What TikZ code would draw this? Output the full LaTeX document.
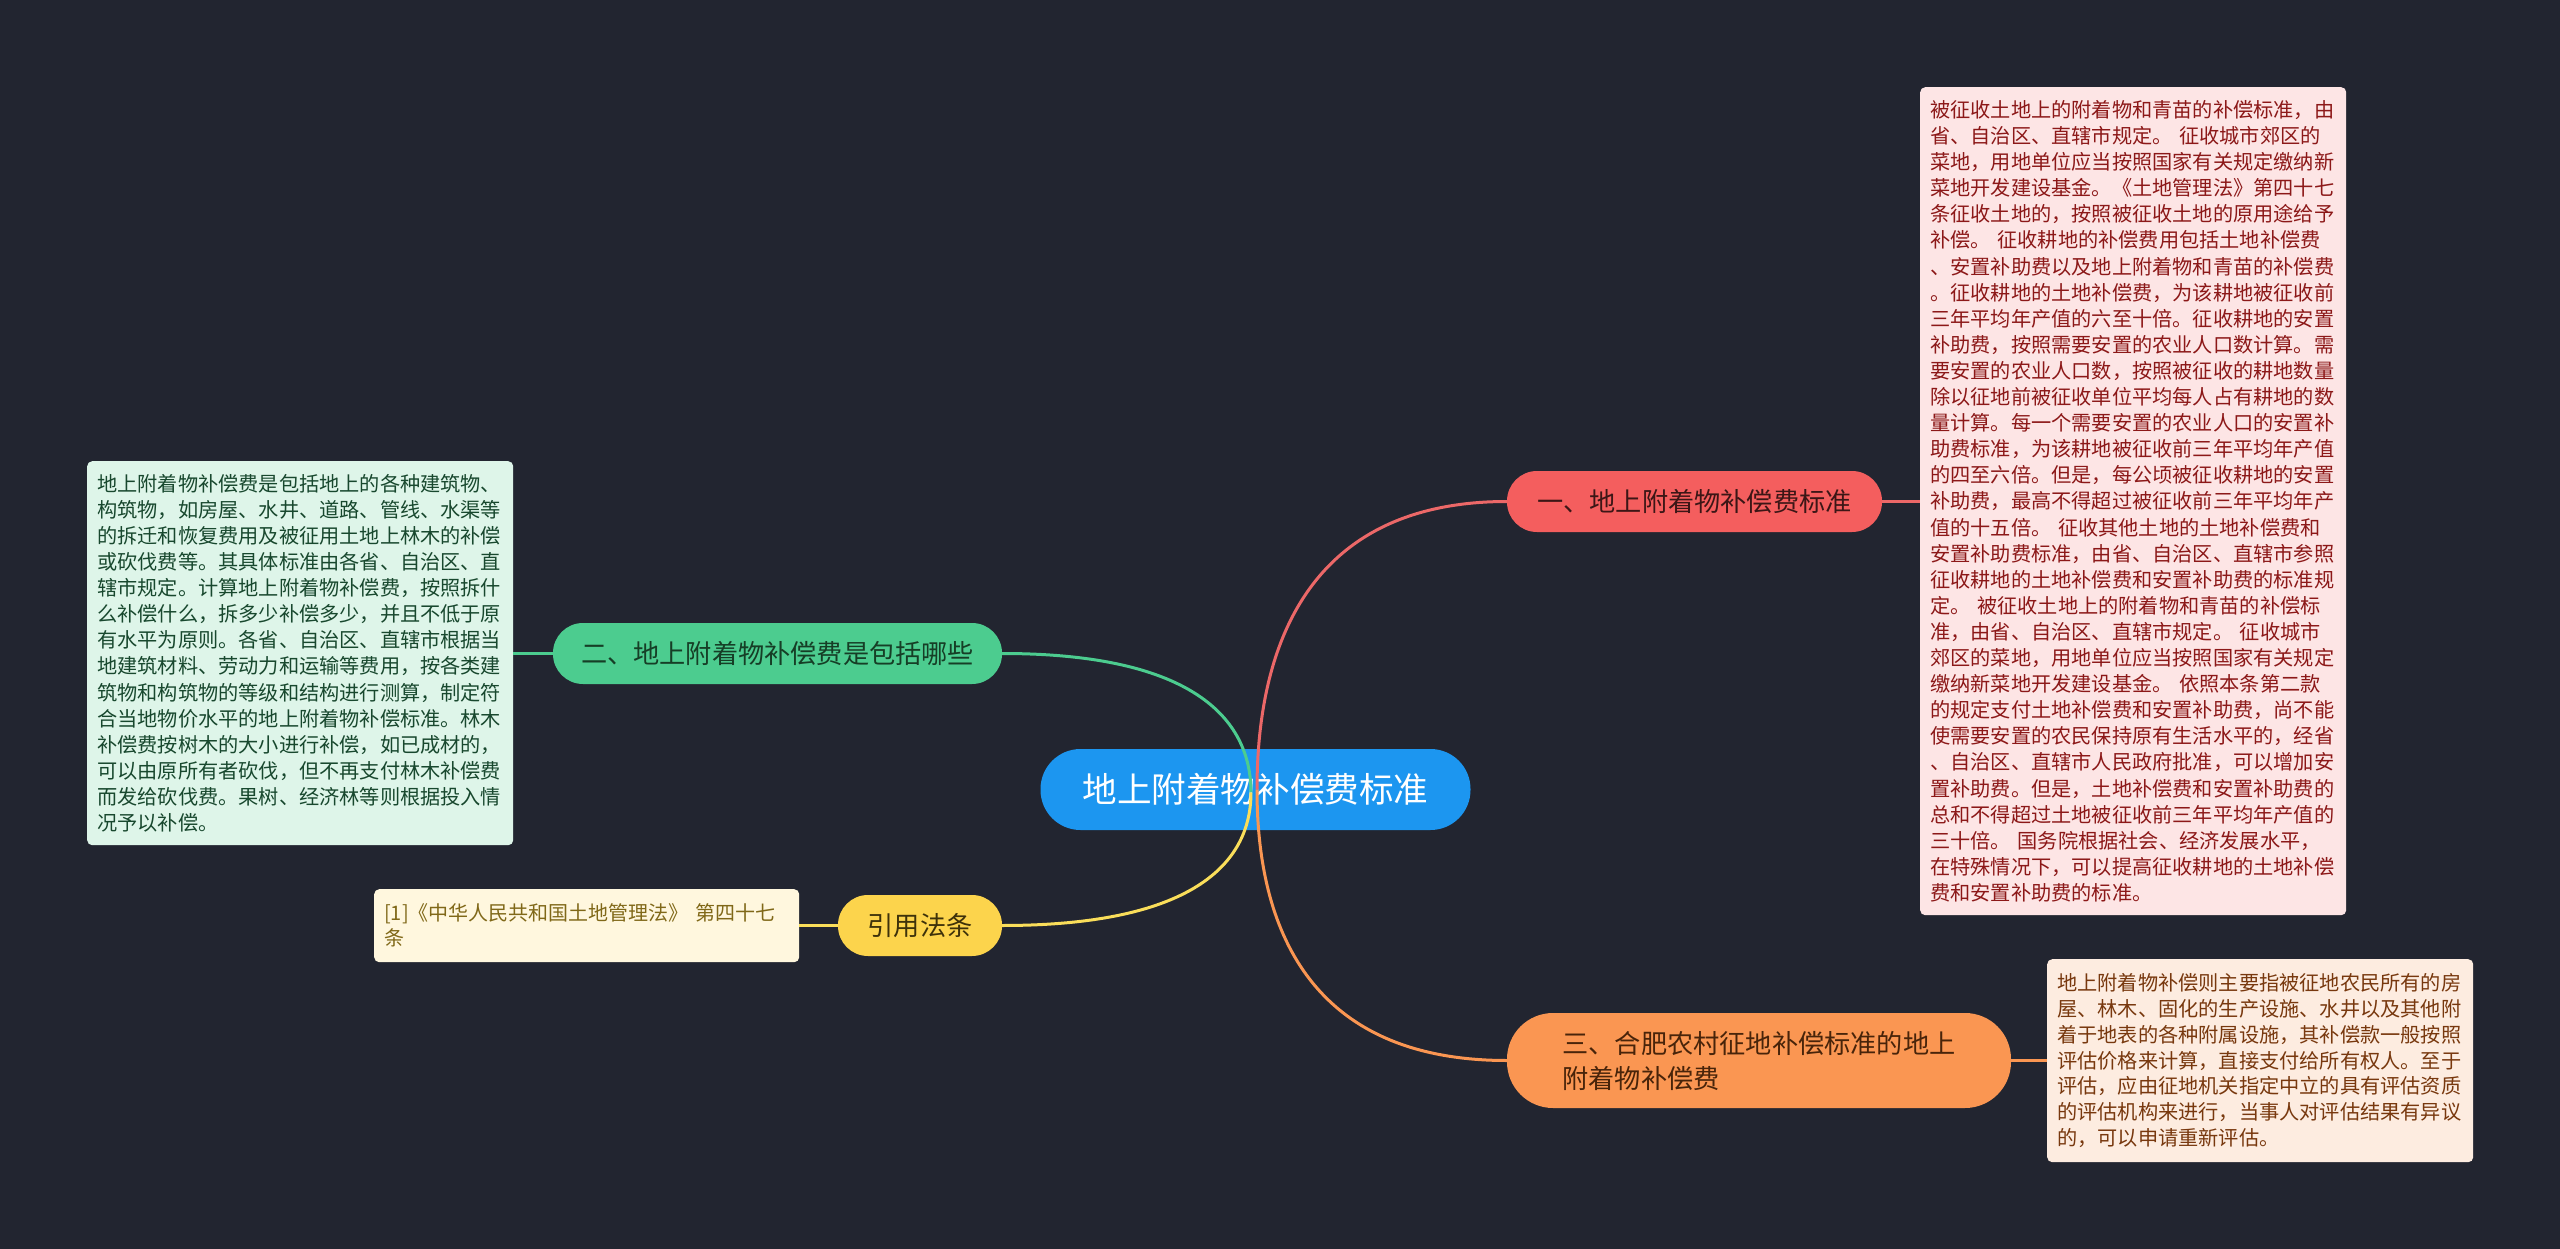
\documentclass[tikz,border=0pt]{standalone}
\usepackage{fontspec}
\newfontfamily\cjk{Noto Sans CJK SC}
\setlength{\parindent}{0pt}
\definecolor{bgc}{RGB}{34,37,48}
\definecolor{cblue}{RGB}{28,150,240}
\definecolor{cred}{RGB}{244,94,94}
\definecolor{credline}{RGB}{236,104,104}
\definecolor{credtxt}{RGB}{60,22,22}
\definecolor{cpink}{RGB}{253,229,229}
\definecolor{cpinktxt}{RGB}{140,24,24}
\definecolor{cgreen}{RGB}{76,204,143}
\definecolor{cgreentxt}{RGB}{22,62,38}
\definecolor{cmint}{RGB}{222,245,233}
\definecolor{cminttxt}{RGB}{24,72,46}
\definecolor{cyellow}{RGB}{252,212,76}
\definecolor{cyellowline}{RGB}{250,222,90}
\definecolor{cyellowtxt}{RGB}{62,50,10}
\definecolor{ccream}{RGB}{255,247,222}
\definecolor{ccreamtxt}{RGB}{128,104,24}
\definecolor{corange}{RGB}{250,150,82}
\definecolor{corangetxt}{RGB}{72,36,10}
\definecolor{cpeach}{RGB}{253,236,224}
\definecolor{cpeachtxt}{RGB}{120,56,14}
\tikzset{
  pill/.style={rectangle, rounded corners=#1, inner sep=0pt,
    font=\cjk\fontsize{26.2}{35}\selectfont},
  txtbox/.style={rectangle, rounded corners=5pt, anchor=north west, align=left,
    inner xsep=10pt, inner ysep=0pt, text width=406pt,
    font=\cjk\fontsize{20.2}{26.1}\selectfont},
  link/.style={line width=3pt},
}
\begin{document}
\begin{tikzpicture}[x=1pt,y=-1pt]
\fill[bgc] (0,0) rectangle (2560,1249);
\useasboundingbox (0,0) rectangle (2560,1249);

% central node
\node[pill=40pt, fill=cblue, text=white, minimum width=430pt, minimum height=81pt,
  font=\cjk\fontsize{34.6}{40}\selectfont] (c) at (1255.5,789.5) {地上附着物补偿费标准};

% branch nodes
\node[pill=30pt, fill=cred, text=credtxt, minimum width=375pt, minimum height=61pt]
  (b1) at (1694.5,501.5) {一、地上附着物补偿费标准};
\node[pill=30pt, fill=cgreen, text=cgreentxt, minimum width=449pt, minimum height=61pt]
  (b2) at (777.5,653.5) {二、地上附着物补偿费是包括哪些};
\node[pill=30pt, fill=cyellow, text=cyellowtxt, minimum width=164pt, minimum height=61pt]
  (b4) at (920,925.5) {引用法条};
\node[pill=46pt, fill=corange, text=corangetxt, minimum width=504pt, minimum height=95pt, align=left]
  (b3) at (1759,1060.5) {三、合肥农村征地补偿标准的地上\\附着物补偿费};

% text boxes
\node[txtbox, fill=cpink, text=cpinktxt, minimum height=828pt] (t1) at (1920,87) {%
被征收土地上的附着物和青苗的补偿标准，由\\
省、自治区、直辖市规定。 征收城市郊区的\\
菜地，用地单位应当按照国家有关规定缴纳新\\
菜地开发建设基金。《土地管理法》第四十七\\
条征收土地的，按照被征收土地的原用途给予\\
补偿。 征收耕地的补偿费用包括土地补偿费\\
、安置补助费以及地上附着物和青苗的补偿费\\
。征收耕地的土地补偿费，为该耕地被征收前\\
三年平均年产值的六至十倍。征收耕地的安置\\
补助费，按照需要安置的农业人口数计算。需\\
要安置的农业人口数，按照被征收的耕地数量\\
除以征地前被征收单位平均每人占有耕地的数\\
量计算。每一个需要安置的农业人口的安置补\\
助费标准，为该耕地被征收前三年平均年产值\\
的四至六倍。但是，每公顷被征收耕地的安置\\
补助费，最高不得超过被征收前三年平均年产\\
值的十五倍。 征收其他土地的土地补偿费和\\
安置补助费标准，由省、自治区、直辖市参照\\
征收耕地的土地补偿费和安置补助费的标准规\\
定。 被征收土地上的附着物和青苗的补偿标\\
准，由省、自治区、直辖市规定。 征收城市\\
郊区的菜地，用地单位应当按照国家有关规定\\
缴纳新菜地开发建设基金。 依照本条第二款\\
的规定支付土地补偿费和安置补助费，尚不能\\
使需要安置的农民保持原有生活水平的，经省\\
、自治区、直辖市人民政府批准，可以增加安\\
置补助费。但是，土地补偿费和安置补助费的\\
总和不得超过土地被征收前三年平均年产值的\\
三十倍。 国务院根据社会、经济发展水平，\\
在特殊情况下，可以提高征收耕地的土地补偿\\
费和安置补助费的标准。};

\node[txtbox, fill=cmint, text=cminttxt, minimum height=384pt] (t2) at (87,461) {%
地上附着物补偿费是包括地上的各种建筑物、\\
构筑物，如房屋、水井、道路、管线、水渠等\\
的拆迁和恢复费用及被征用土地上林木的补偿\\
或砍伐费等。其具体标准由各省、自治区、直\\
辖市规定。计算地上附着物补偿费，按照拆什\\
么补偿什么，拆多少补偿多少，并且不低于原\\
有水平为原则。各省、自治区、直辖市根据当\\
地建筑材料、劳动力和运输等费用，按各类建\\
筑物和构筑物的等级和结构进行测算，制定符\\
合当地物价水平的地上附着物补偿标准。林木\\
补偿费按树木的大小进行补偿，如已成材的，\\
可以由原所有者砍伐，但不再支付林木补偿费\\
而发给砍伐费。果树、经济林等则根据投入情\\
况予以补偿。};

\node[txtbox, fill=ccream, text=ccreamtxt, minimum height=73pt, text width=405pt,
  font=\cjk\fontsize{20}{25}\selectfont] (t3) at (374,889) {%
[1]《中华人民共和国土地管理法》 第四十七\\
条};

\node[txtbox, fill=cpeach, text=cpeachtxt, minimum height=203pt,
  font=\cjk\fontsize{20.2}{25.8}\selectfont] (t4) at (2047,959) {%
地上附着物补偿则主要指被征地农民所有的房\\
屋、林木、固化的生产设施、水井以及其他附\\
着于地表的各种附属设施，其补偿款一般按照\\
评估价格来计算，直接支付给所有权人。至于\\
评估，应由征地机关指定中立的具有评估资质\\
的评估机构来进行，当事人对评估结果有异议\\
的，可以申请重新评估。};

% short links from branches to text boxes
\draw[link, credline] (b1.east) -- (t1.west |- b1.east);
\draw[link, cgreen] (b2.west) -- (t2.east |- b2.west);
\draw[link, cyellowline] (b4.west) -- (t3.east |- b4.west);
\draw[link, corange] (b3.east) -- (t4.west |- b3.east);

% curves from the central node (drawn over it)
\draw[link, credline] ([xshift=1.5pt]c.center) .. controls (1257,674) and (1290,501.5) .. (b1.west);
\draw[link, corange] ([xshift=1.5pt]c.center) .. controls (1257,900) and (1290,1060.5) .. (b3.west);
\draw[link, cgreen] ([xshift=-4.5pt,yshift=-3pt]c.center) .. controls (1251,737) and (1218,653.5) .. (b2.east);
\draw[link, cyellowline] ([xshift=-4.5pt,yshift=-3pt]c.center) .. controls (1251,846) and (1218,925.5) .. (b4.east);
\end{tikzpicture}
\end{document}
